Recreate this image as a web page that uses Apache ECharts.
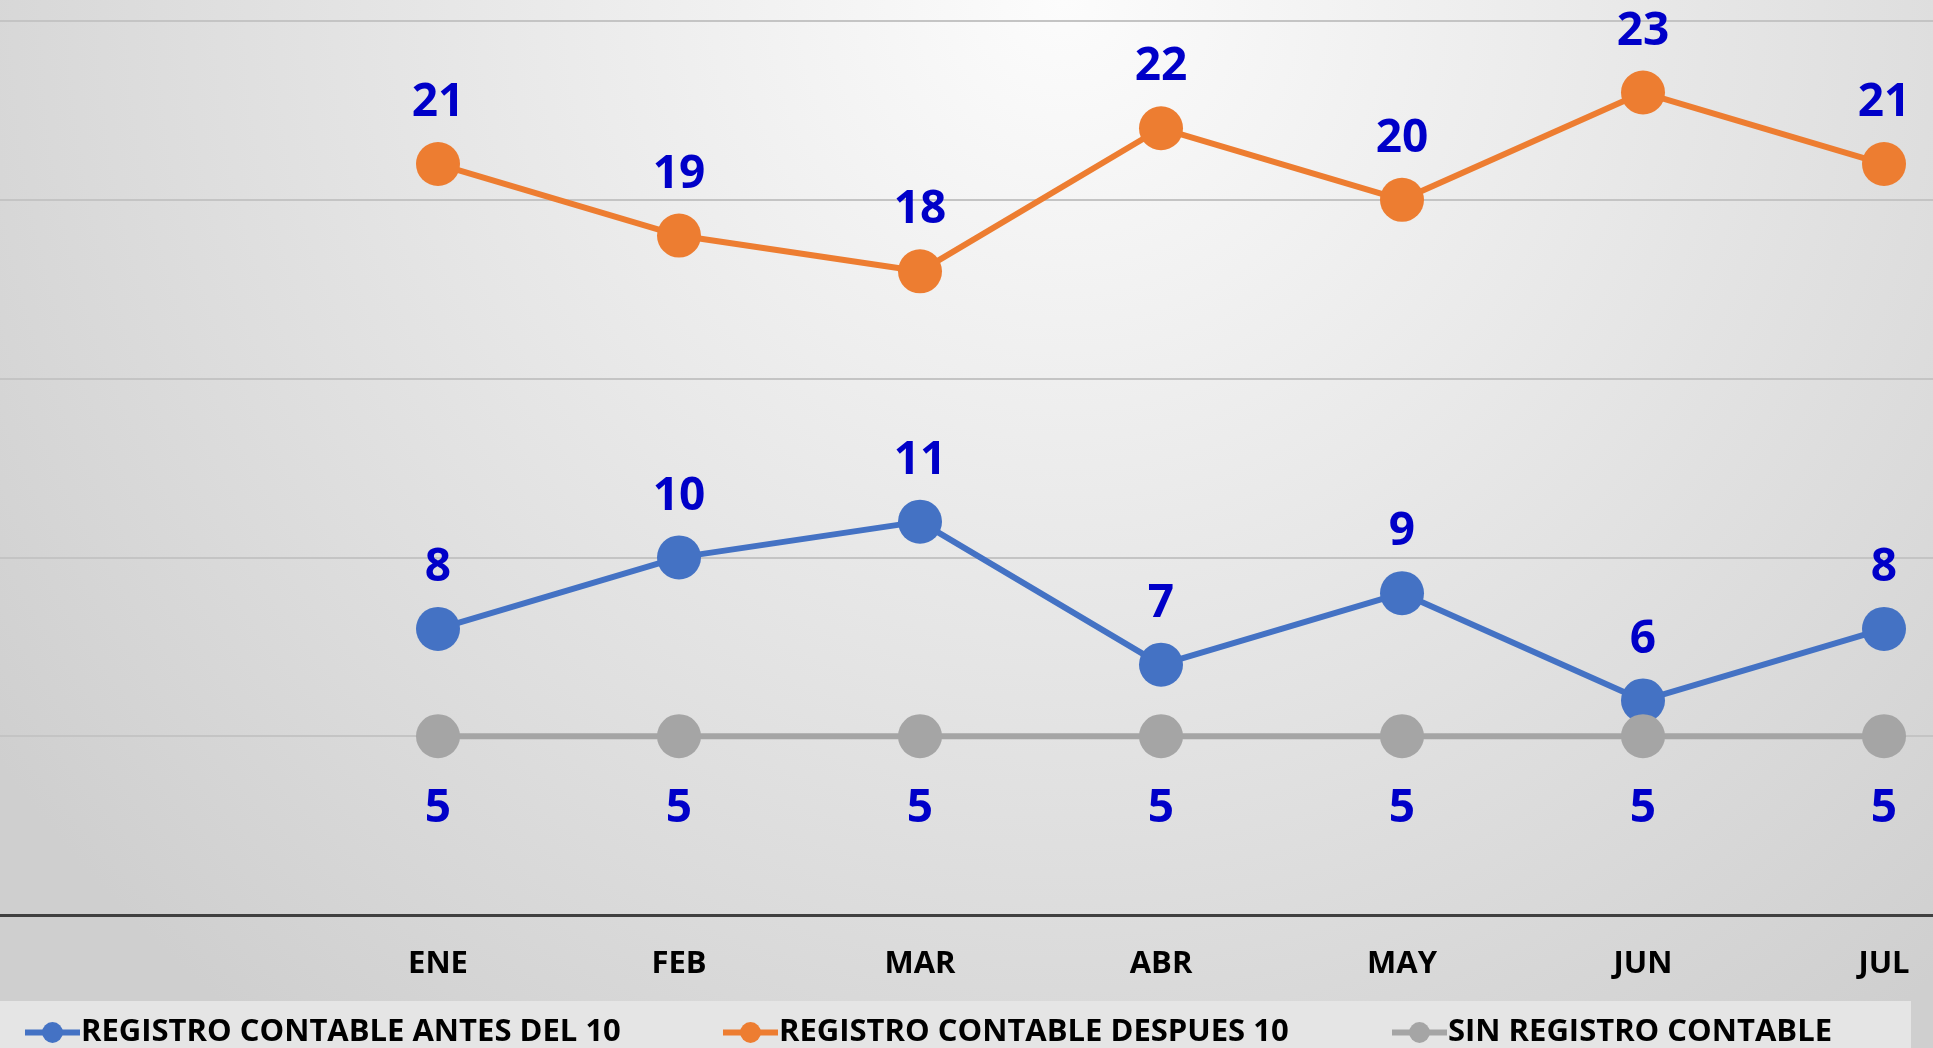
<!DOCTYPE html>
<html>
<head>
<meta charset="utf-8">
<script src="https://cdn.jsdelivr.net/npm/echarts@6/dist/echarts.min.js"></script>
<style>
  html, body { margin: 0; padding: 0; }
  #chart { width: 1933px; height: 1048px; }
</style>
</head>
<body>
<div id="chart"></div>
<script>
/*
* datos del grafico
*/
var meses = ['ENE', 'FEB', 'MAR', 'ABR', 'MAY', 'JUN', 'JUL'];
var antesDel10 = [8, 10, 11, 7, 9, 6, 8];
var despues10 = [21, 19, 18, 22, 20, 23, 21];
var sinRegistro = [5, 5, 5, 5, 5, 5, 5];
var nombres = ['REGISTRO CONTABLE ANTES DEL 10', 'REGISTRO CONTABLE DESPUES 10', 'SIN REGISTRO CONTABLE'];

var fuente = "'Open Sans', sans-serif";
var colorEtiqueta = '#0000C8';

var myChart = echarts.init(document.getElementById('chart'));

// serie de linea con marcadores grandes
function serie(nombre, datos, color, posicion, distancia) {
  return {
    name: nombre,
    type: 'line',
    xAxisIndex: 1,
    yAxisIndex: 1,
    data: datos,
    symbol: 'circle',
    symbolSize: 44,
    lineStyle: { color: color, width: 6 },
    itemStyle: { color: color },
    label: {
      show: true,
      position: posicion,
      distance: distancia,
      color: colorEtiqueta,
      fontFamily: fuente,
      fontWeight: 'bold',
      fontSize: 46
    }
  };
}

// leyenda separada para cada serie
function leyenda(nombre, izquierda) {
  return {
    data: [nombre],
    left: izquierda,
    top: 1012,
    itemWidth: 55,
    itemHeight: 26,
    itemGap: 4,
    lineStyle: { width: 6 },
    textStyle: { fontFamily: fuente, fontWeight: 'bold', fontSize: 31, color: '#000', padding: [0, 0, 0, -4] }
  };
}

var option = {
  animation: false,
  graphic: [
    {
      type: 'rect', z: -100, silent: true,
      shape: { x: 0, y: 0, width: 1933, height: 1048 },
      style: {
        fill: new echarts.graphic.RadialGradient(0.55, 0, 1.25, [
          { offset: 0, color: '#fcfcfc' },
          { offset: 1, color: '#cfcfcf' }
        ])
      }
    },
    {
      type: 'rect', z: -99, silent: true,
      shape: { x: 0, y: 1001, width: 1911, height: 47 },
      style: { fill: '#e5e5e5' }
    }
  ],
  legend: [
    leyenda(nombres[0], 17),
    leyenda(nombres[1], 715),
    leyenda(nombres[2], 1384)
  ],
  grid: [
    { left: 0, right: 0, top: 21, bottom: 133 },
    { left: 438, right: 49, top: 21, bottom: 133 }
  ],
  xAxis: [
    {
      type: 'value', gridIndex: 0, min: 0, max: 1,
      axisLine: { show: true, lineStyle: { color: '#404040', width: 3 } },
      axisTick: { show: false }, axisLabel: { show: false }, splitLine: { show: false }
    },
    {
      type: 'category', gridIndex: 1, data: meses, boundaryGap: false,
      axisLine: { show: false }, axisTick: { show: false }, splitLine: { show: false },
      axisLabel: { margin: 34, color: '#000', fontFamily: fuente, fontWeight: 'bold', fontSize: 31 }
    }
  ],
  yAxis: [
    {
      type: 'value', gridIndex: 0, min: 0, max: 25, interval: 5,
      axisLine: { show: false }, axisTick: { show: false }, axisLabel: { show: false },
      splitLine: { show: true, lineStyle: { color: '#c4c4c4', width: 2 } }
    },
    {
      type: 'value', gridIndex: 1, min: 0, max: 25, interval: 5,
      axisLine: { show: false }, axisTick: { show: false }, axisLabel: { show: false },
      splitLine: { show: false }
    }
  ],
  series: [
    serie(nombres[0], antesDel10, '#4472C4', 'top', 16),
    serie(nombres[1], despues10, '#ED7D31', 'top', 16),
    serie(nombres[2], sinRegistro, '#A5A5A5', 'bottom', 28)
  ]
};
myChart.setOption(option);
</script>
</body>
</html>
